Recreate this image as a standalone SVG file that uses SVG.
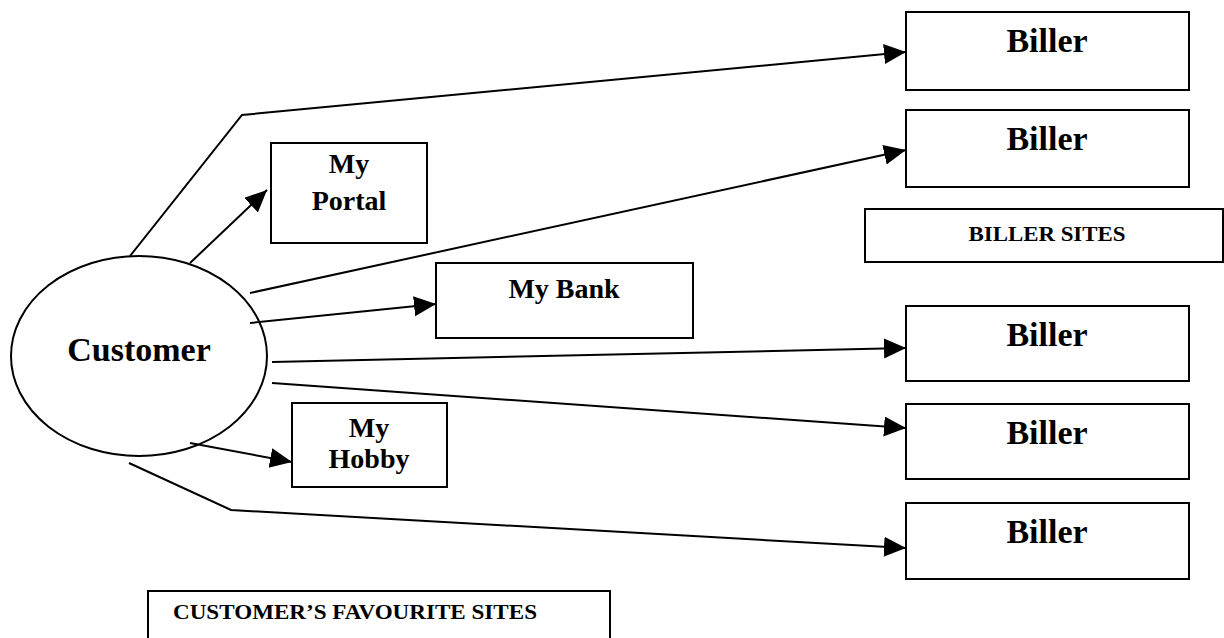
<svg xmlns="http://www.w3.org/2000/svg" width="1224" height="638" viewBox="0 0 1224 638">
<style>
.box{fill:#fff;stroke:#000;stroke-width:2}
.ln{fill:none;stroke:#000;stroke-width:2;stroke-linejoin:miter}
.t{font-family:"Liberation Serif","Times New Roman",serif;font-weight:bold;fill:#000;text-anchor:middle}
.big{font-size:34px}
.mid{font-size:28px}
.sm{font-size:22px}
</style>
<defs>
<marker id="ah" markerUnits="userSpaceOnUse" markerWidth="24" markerHeight="22" refX="22" refY="10" orient="auto">
<path d="M0,0 L22,10 L0,20 Z" fill="#000"/>
</marker>
</defs>
<rect width="1224" height="638" fill="#fff"/>
<g id="connectors">
<polyline class="ln" points="130,256 242,115 906,52" marker-end="url(#ah)"/>
<line class="ln" x1="190" y1="263" x2="267" y2="190" marker-end="url(#ah)"/>
<line class="ln" x1="250" y1="293" x2="906" y2="150" marker-end="url(#ah)"/>
<line class="ln" x1="250" y1="323" x2="436" y2="304" marker-end="url(#ah)"/>
<line class="ln" x1="272" y1="362" x2="906" y2="348" marker-end="url(#ah)"/>
<line class="ln" x1="272" y1="383" x2="906" y2="428" marker-end="url(#ah)"/>
<line class="ln" x1="190" y1="443" x2="292" y2="462" marker-end="url(#ah)"/>
<polyline class="ln" points="129,463 231,510 906,548" marker-end="url(#ah)"/>
</g>
<g id="customer">
<ellipse class="box" fill="none" style="fill:none" cx="139" cy="356" rx="128" ry="100"/>
<text class="t big" x="139" y="361">Customer</text>
</g>
<g id="my-portal">
<rect class="box" x="271" y="143" width="156" height="100"/>
<text class="t mid" x="349" y="173">My</text>
<text class="t mid" x="349" y="210">Portal</text>
</g>
<g id="my-bank">
<rect class="box" x="436" y="263" width="257" height="75"/>
<text class="t mid" x="564" y="298">My Bank</text>
</g>
<g id="my-hobby">
<rect class="box" x="292" y="403" width="155" height="84"/>
<text class="t mid" x="369" y="437">My</text>
<text class="t mid" x="369" y="468">Hobby</text>
</g>
<g id="biller-1">
<rect class="box" x="906" y="12" width="283" height="78"/>
<text class="t big" x="1047" y="52">Biller</text>
</g>
<g id="biller-2">
<rect class="box" x="906" y="110" width="283" height="77"/>
<text class="t big" x="1047" y="150">Biller</text>
</g>
<g id="biller-sites">
<rect class="box" x="865" y="209" width="358" height="53"/>
<text class="t sm" x="1047" y="241" textLength="157" lengthAdjust="spacingAndGlyphs">BILLER SITES</text>
</g>
<g id="biller-3">
<rect class="box" x="906" y="306" width="283" height="75"/>
<text class="t big" x="1047" y="346">Biller</text>
</g>
<g id="biller-4">
<rect class="box" x="906" y="404" width="283" height="75"/>
<text class="t big" x="1047" y="444">Biller</text>
</g>
<g id="biller-5">
<rect class="box" x="906" y="503" width="283" height="76"/>
<text class="t big" x="1047" y="543">Biller</text>
</g>
<g id="favourite-sites">
<rect class="box" x="148" y="591" width="462" height="60"/>
<text class="t sm" x="173" y="619" style="text-anchor:start" textLength="364" lengthAdjust="spacingAndGlyphs">CUSTOMER’S FAVOURITE SITES</text>
</g>
</svg>
